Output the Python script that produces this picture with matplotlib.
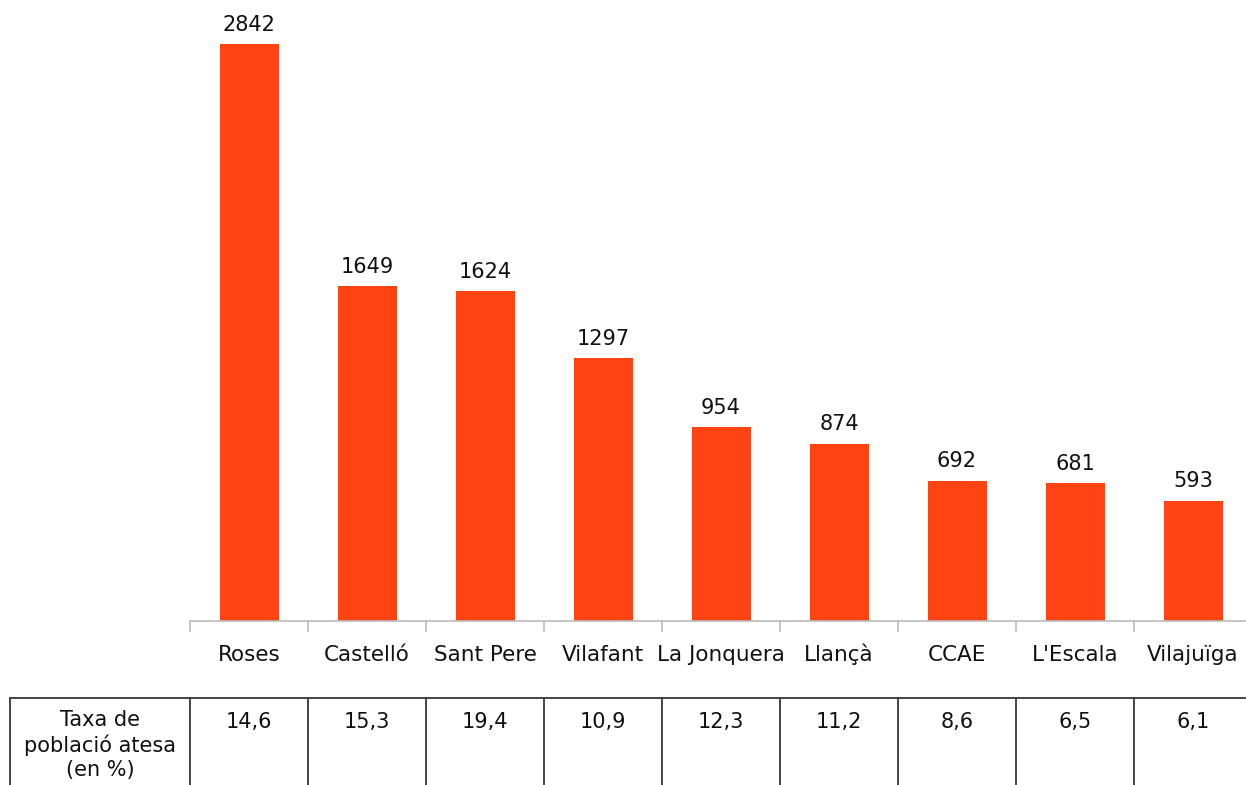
import matplotlib
matplotlib.use("Agg")
import matplotlib.pyplot as plt
from matplotlib.transforms import blended_transform_factory
from matplotlib.lines import Line2D

municipis = ["Roses", "Castelló", "Sant Pere", "Vilafant", "La Jonquera",
             "Llançà", "CCAE", "L'Escala", "Vilajuïga"]
persones = [2842, 1649, 1624, 1297, 954, 874, 692, 681, 593]
taxa = ["14,6", "15,3", "19,4", "10,9", "12,3", "11,2", "8,6", "6,5", "6,1"]
taxa_titol = "Taxa de\npoblació atesa\n(en %)"

W, H = 1246, 785
bar_color = "#ff4312"
txt_color = "#111111"
fs = 15

fig = plt.figure(figsize=(W / 100, H / 100), dpi=100)
# plot area: from x=190 px, axis line at y=621 px
ax = fig.add_axes([190 / W, (H - 621) / H, 9 * 118 / W, 621 / H])

x = list(range(len(municipis)))
ax.bar(x, persones, width=0.5, color=bar_color, zorder=2)
for xi, v in zip(x, persones):
    ax.annotate(str(v), (xi, v), xytext=(0, 9.5), textcoords="offset points",
                ha="center", va="baseline", fontsize=fs, color=txt_color)

ax.set_xlim(-0.5, len(municipis) - 0.5)
ax.set_ylim(0, 3060)
for s in ["top", "right", "left"]:
    ax.spines[s].set_visible(False)
ax.spines["bottom"].set_color("#bbbbbb")
ax.spines["bottom"].set_linewidth(1.2)
ax.set_yticks([])

# boundary ticks
ax.set_xticks([i - 0.5 for i in range(len(municipis) + 1)])
ax.set_xticklabels([])
ax.tick_params(axis="x", which="major", length=8, width=1.2,
               color="#bbbbbb", direction="out")

tr = blended_transform_factory(ax.transData, fig.transFigure)
# category labels (baseline aligned)
for xi, m in zip(x, municipis):
    fig.text(xi, (H - 661) / H, m, transform=tr, ha="center", va="baseline",
             fontsize=15.5, color=txt_color)

# data table below the chart
y_top = (H - 698) / H
line_kw = dict(color="#444444", linewidth=1.4)
fig.add_artist(Line2D([10 / W, 1], [y_top, y_top], transform=fig.transFigure, **line_kw))
fig.add_artist(Line2D([10 / W, 10 / W], [0, y_top], transform=fig.transFigure, **line_kw))
for i in range(len(municipis)):
    fig.add_artist(Line2D([i - 0.5, i - 0.5], [0, y_top], transform=tr,
                          clip_on=False, **line_kw))
for xi, t in zip(x, taxa):
    fig.text(xi, (H - 728) / H, t, transform=tr, ha="center", va="baseline",
             fontsize=fs, color=txt_color)
fig.text(100 / W, (H - 745) / H, taxa_titol, ha="center", va="center",
         fontsize=fs, color=txt_color, linespacing=1.25)

fig.savefig("out.png", dpi=100)
